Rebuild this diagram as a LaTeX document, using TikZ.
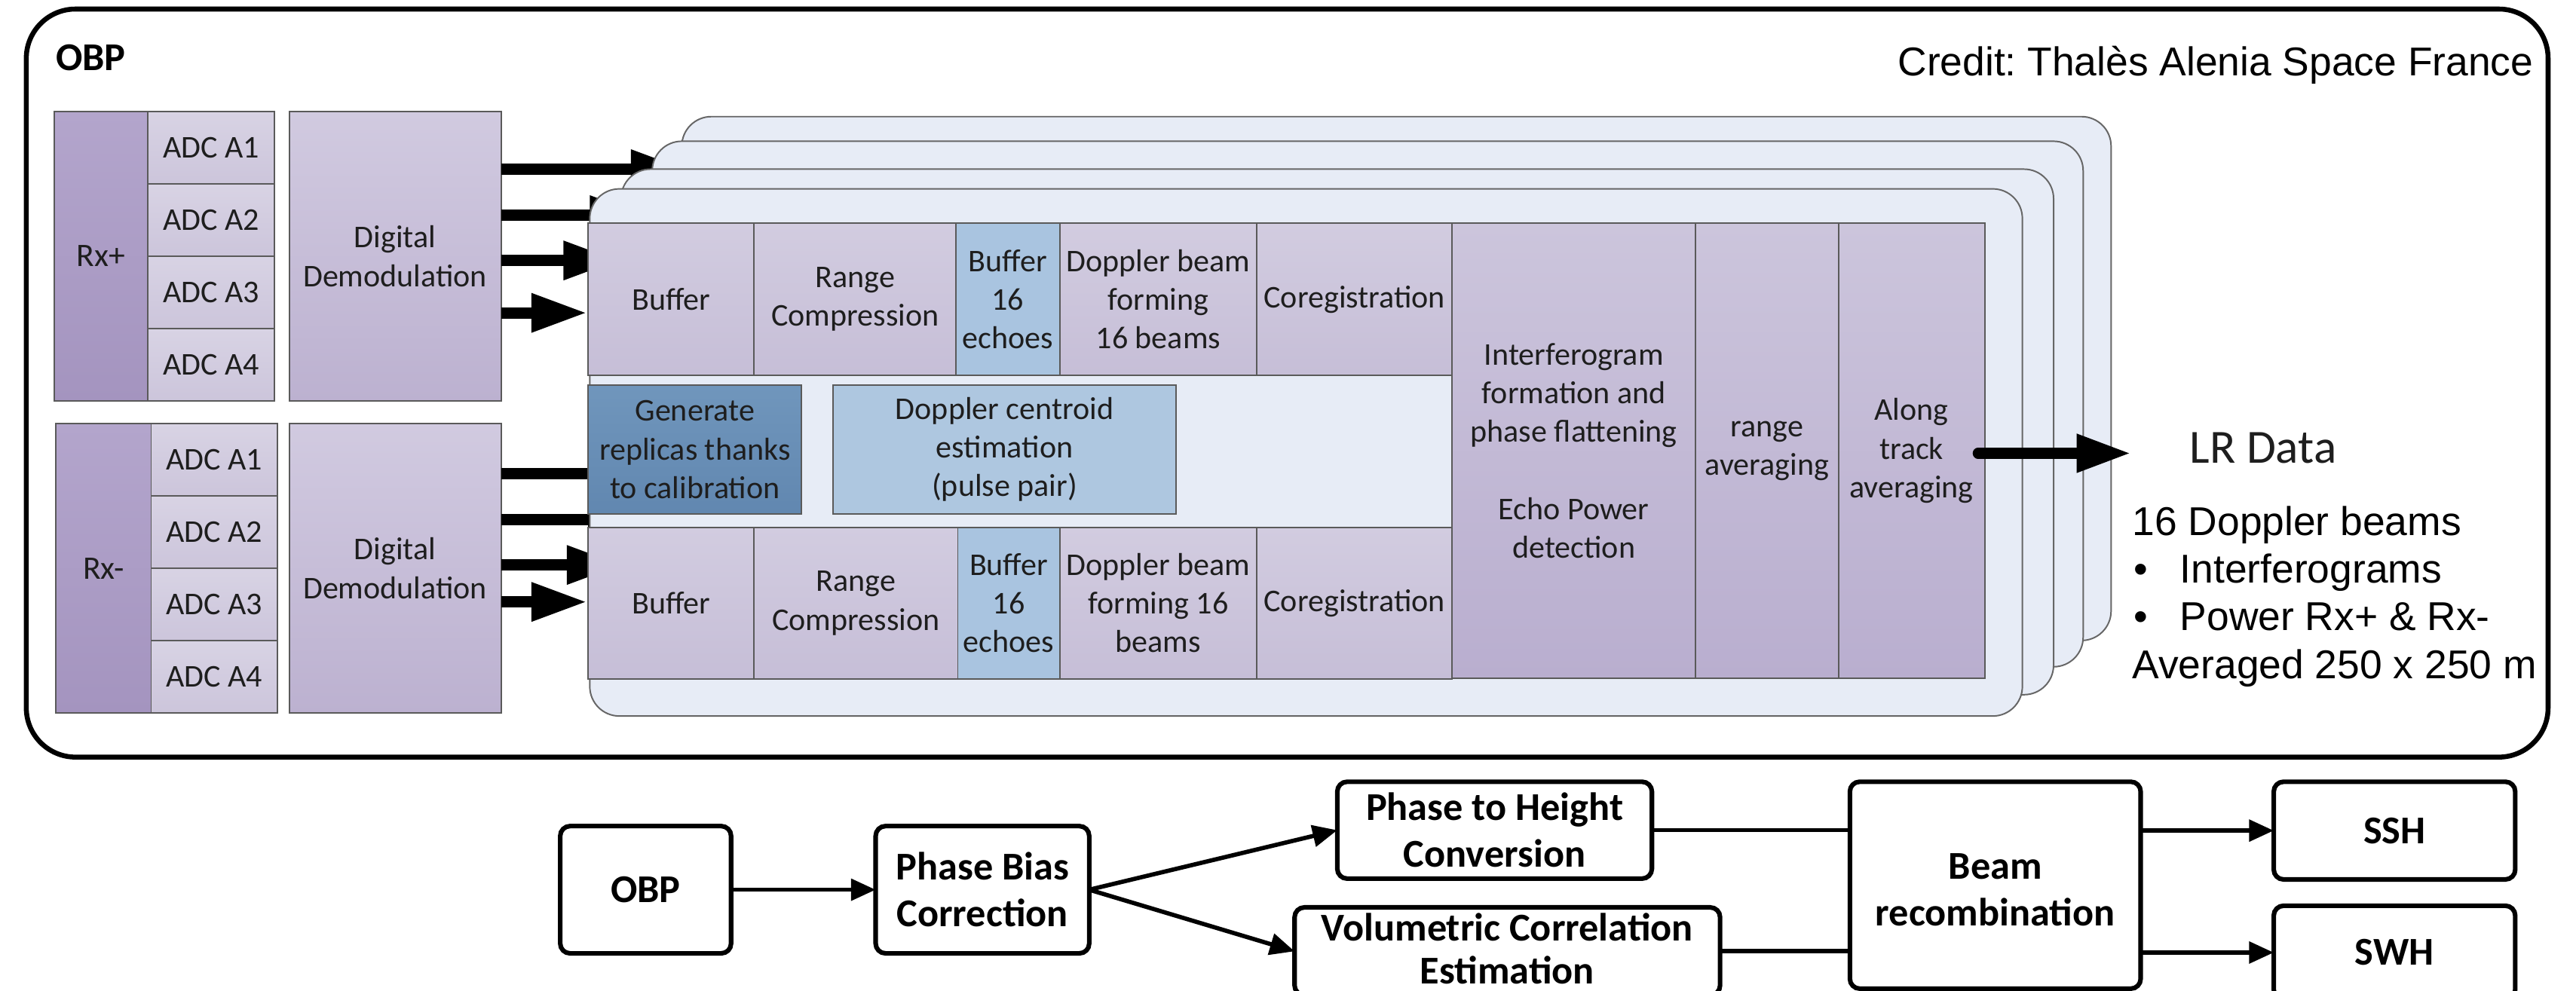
\documentclass[tikz,border=0pt]{standalone}
\usepackage{fontspec}
\setmainfont{Carlito}
\newfontfamily\arialf{Liberation Sans}
\usetikzlibrary{arrows.meta}
\definecolor{txtc}{HTML}{1E1E1E}
\definecolor{bordc}{HTML}{5A5A5A}
\definecolor{rxtop}{HTML}{B3A5CC}
\definecolor{rxbot}{HTML}{A494BF}
\definecolor{adctop}{HTML}{D8D3E4}
\definecolor{adcbot}{HTML}{CCC5DB}
\definecolor{demtop}{HTML}{D1CAE0}
\definecolor{dembot}{HTML}{BCB1D0}
\definecolor{pbtop}{HTML}{D2CCE0}
\definecolor{pbbot}{HTML}{C6BED7}
\definecolor{bluec}{HTML}{A9C4E0}
\definecolor{gentop}{HTML}{7096BC}
\definecolor{genbot}{HTML}{6187B0}
\definecolor{dcec}{HTML}{AEC7E0}
\definecolor{cltop}{HTML}{CCC5DC}
\definecolor{clbot}{HTML}{B9AECF}
\definecolor{planef}{HTML}{E7ECF6}
\definecolor{planeb}{HTML}{666666}
\newcommand\mybox[7]{\node[#1, anchor=north west, minimum width=#5pt, minimum height=#6pt] (#2) at (#3,#4) {#7};}
\frenchspacing
\begin{document}
\begin{tikzpicture}[x=1pt,y=-1pt,
  every node/.style={inner sep=0pt, outer sep=0pt},
  bk/.style={draw=bordc, line width=0.9pt, align=center, text=txtc, font=\fontsize{19.3}{23.5}\selectfont},
  rx/.style={bk, top color=rxtop, bottom color=rxbot, font=\fontsize{20}{24}\selectfont},
  adc/.style={bk, top color=adctop, bottom color=adcbot},
  dem/.style={bk, top color=demtop, bottom color=dembot},
  pb/.style={bk, top color=pbtop, bottom color=pbbot},
  bl/.style={bk, fill=bluec},
  gn/.style={bk, top color=gentop, bottom color=genbot},
  dc/.style={bk, fill=dcec},
  cl/.style={bk, top color=cltop, bottom color=clbot},
  plane/.style={draw=planeb, line width=0.9pt, fill=planef, rounded corners=18pt},
  fat/.style={line width=7pt, -{Triangle[length=34pt,width=22pt]}},
  fc/.style={draw=black, line width=2.8pt, rounded corners=6pt, align=center, text=black, font=\bfseries\fontsize{24}{28.5}\selectfont},
  ft/.style={align=center, text=black, font=\bfseries\fontsize{24}{28.5}\selectfont},
  fa/.style={line width=2.6pt, -{Triangle[length=15pt,width=13pt]}},
  fl/.style={line width=2.6pt},
  arl/.style={font=\arialf\fontsize{24.5}{29}\selectfont, text=black}
]
\useasboundingbox (0,0) rectangle (1568,603);
\clip (0,0) rectangle (1568,603);
\fill[white] (0,0) rectangle (1568,603);

% outer frame
\draw[line width=3pt, rounded corners=30pt] (16,5.5) rectangle (1551,461);
\node[anchor=base west, font=\bfseries\fontsize{24}{29}\selectfont] (obpt) at (34,43) {OBP};
\node[anchor=base east, font=\arialf\fontsize{24.5}{29}\selectfont] (cred) at (1542,46) {Credit: Thalès Alenia Space France};

% Rx+ chain
\mybox{rx}{rxp}{33}{68}{57}{176}{Rx+}
\mybox{adc}{adcp1}{90}{68}{77}{44}{ADC A1}
\mybox{adc}{adcp2}{90}{112}{77}{44}{ADC A2}
\mybox{adc}{adcp3}{90}{156}{77}{44}{ADC A3}
\mybox{adc}{adcp4}{90}{200}{77}{44}{ADC A4}
\mybox{dem}{demp}{176}{68}{129}{176}{Digital\\Demodulation}
% Rx- chain
\mybox{rx}{rxm}{34}{258}{58}{176}{Rx-}
\mybox{adc}{adcm1}{92}{258}{77}{44}{ADC A1}
\mybox{adc}{adcm2}{92}{302}{77}{44}{ADC A2}
\mybox{adc}{adcm3}{92}{346}{77}{44}{ADC A3}
\mybox{adc}{adcm4}{92}{390}{77}{44}{ADC A4}
\mybox{dem}{demm}{176}{258}{129}{176}{Digital\\Demodulation}

% stacked planes with arrows in between
\draw[plane] (415,71) rectangle (1285,390);
\coordinate (e1) at (418,103);
\draw[fat] (demp.east |- e1) -- (e1);
\draw[plane] (397,86) rectangle (1268,406);
\draw[plane] (378,103) rectangle (1250,423);
\coordinate (e2) at (393,131);
\coordinate (e3) at (377,158.6);
\coordinate (f1) at (392,288.5);
\coordinate (f2) at (392,316.5);
\coordinate (f3) at (379,344);
\draw[fat] (demp.east |- e2) -- (e2);
\draw[fat] (demp.east |- e3) -- (e3);
\draw[fat] (demm.east |- f1) -- (f1);
\draw[fat] (demm.east |- f2) -- (f2);
\draw[fat] (demm.east |- f3) -- (f3);
\draw[plane] (359,115) rectangle (1231,436);
\coordinate (e4) at (357.5,190.5);
\coordinate (f4) at (357.5,366.5);
\draw[fat] (demp.east |- e4) -- (e4);
\draw[fat] (demm.east |- f4) -- (f4);

% front plane blocks: top row
\mybox{pb}{buf1}{358}{136}{101}{92.5}{Buffer}
\mybox{pb}{rc1}{459}{136}{123}{92.5}{Range\\Compression}
\mybox{bl}{bsa}{582}{136}{63}{92.5}{Buffer\\16\\echoes}
\mybox{pb}{dbf1}{645}{136}{120}{92.5}{Doppler beam\\forming\\16 beams}
\mybox{pb}{cor1}{765}{136}{119}{92.5}{Coregistration}
% middle
\mybox{gn}{gen}{358}{234.5}{130}{78.5}{Generate\\replicas thanks\\to calibration}
\mybox{dc}{dce}{507}{234.5}{209}{78.5}{Doppler centroid\\estimation\\(pulse pair)}
% bottom row
\mybox{pb}{buf2}{358}{321}{101}{92.5}{Buffer}
\mybox{pb}{rc2}{459}{321}{124}{92.5}{Range\\Compression}
\mybox{bl}{bsb}{583}{321}{62}{92.5}{Buffer\\16\\echoes}
\mybox{pb}{dbf2}{645}{321}{120}{92.5}{Doppler beam\\forming 16\\beams}
\mybox{pb}{cor2}{765}{321}{119}{92.5}{Coregistration}
% right columns
\mybox{cl}{ifg}{884}{136}{148}{277}{Interferogram\\formation and\\phase flattening\\[23.5pt]Echo Power\\detection}
\mybox{cl}{rav}{1032}{136}{87}{277}{range\\averaging}
\mybox{cl}{atav}{1119}{136}{89}{277}{Along\\track\\averaging}

% LR data output
\coordinate (lrt) at (1297,276);
\draw[line width=6.5pt, line cap=round, -{Triangle[length=33pt,width=22pt]}] ([xshift=-4pt]atav.east |- lrt) -- (lrt);
\node[anchor=base west, font=\fontsize{29}{32}\selectfont, text=txtc] (lr) at (1333,282) {LR Data};
\node[arl, anchor=base west] (l1) at (1298,326) {16 Doppler beams};
\node[arl, anchor=base west] (b2) at (1299,355) {\textbullet};
\node[arl, anchor=base west] (l2) at (1327,355) {Interferograms};
\node[arl, anchor=base west] (b3) at (1299,384) {\textbullet};
\node[arl, anchor=base west] (l3) at (1327,384) {Power Rx+ \& Rx-};
\node[arl, anchor=base west] (l4) at (1298,413) {Averaged 250 x 250 m};

% bottom flowchart
\node[fc, minimum width=104pt, minimum height=77.5pt] (obp2) at (393,541.75) {OBP};
\node[fc, minimum width=130pt, minimum height=77.5pt] (pbc) at (598,541.75) {Phase Bias\\Correction};
\node[fc, minimum width=191.5pt, minimum height=59pt] (pth) at (909.75,505.5) {Phase to Height\\Conversion};
\node[fc, minimum width=259pt, minimum height=53.5pt] (vce) at (917.5,579.25) {};
\node[ft, font=\bfseries\fontsize{24}{26}\selectfont] (vcet) at ([yshift=1.5pt]vce.center) {Volumetric Correlation\\Estimation};
\node[fc, minimum width=177pt, minimum height=126pt] (beam) at (1214.5,539) {};
\node[ft] (beamt) at ([yshift=-3pt]beam.center) {Beam\\recombination};
\node[fc, minimum width=147pt, minimum height=59.5pt] (ssh) at (1457.5,505.75) {SSH};
\node[fc, minimum width=147pt, minimum height=57pt] (swh) at (1457.5,580) {SWH};

\draw[fa] (obp2.east) -- (pbc.west);
\draw[fa] (pbc.east) -- (pth.west);
\draw[fa] (pbc.east) -- (vce.west);
\draw[fl] (pth.east) -- (pth.east -| beam.west);
\draw[fl] (vce.east) -- (vce.east -| beam.west);
\draw[fa] (beam.east |- ssh.west) -- (ssh.west);
\draw[fa] (beam.east |- swh.west) -- (swh.west);
\end{tikzpicture}
\end{document}
